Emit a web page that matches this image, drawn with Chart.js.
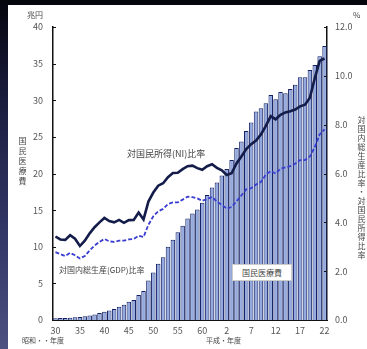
<!DOCTYPE html>
<html>
<head>
<meta charset="utf-8">
<script src="https://cdn.jsdelivr.net/npm/chart.js@4.4.0/dist/chart.umd.min.js"></script>
<style>
  html, body { margin: 0; padding: 0; }
  body { width: 367px; height: 349px; position: relative; overflow: hidden;
         background: linear-gradient(to bottom, #05050d 0%, #1c1e40 30%, #35396a 70%, #4b5080 100%);
         font-family: "Noto Sans CJK JP", "Noto Sans", sans-serif; }
  #paper { position: absolute; left: 8px; top: 5px; right: 0; bottom: 0; background: #fff; }
  #c { position: absolute; left: 0; top: 0; }
  .t { position: absolute; font-size: 9px; color: #444; white-space: nowrap; line-height: 1; }
  .v { writing-mode: vertical-rl; text-orientation: upright; letter-spacing: 1px; font-size: 8px; }
  #box { position: absolute; left: 232px; top: 264px; width: 60px; height: 17px; background: #fff;
         border: 1px solid #ccc; box-sizing: border-box; font-size: 8px; color: #444;
         display: flex; align-items: center; justify-content: center; }
</style>
</head>
<body>
<div id="paper"></div>
<canvas id="c" width="367" height="349"></canvas>
<div class="t" style="left:27px;top:11px;font-size:8px;">兆円</div>
<div class="t" style="left:353px;top:11px;font-size:8px;">%</div>
<div class="t v" style="left:18px;top:137px;letter-spacing:2px;">国民医療費</div>
<div class="t v" style="left:357px;top:116px;">対国内総生産比率・対国民所得比率</div>
<div class="t" style="left:22px;top:337px;font-size:7px;">昭和・・年度</div>
<div class="t" style="left:206px;top:337px;font-size:7px;">平成・年度</div>
<div class="t" style="left:127px;top:149px;">対国民所得(NI)比率</div>
<div class="t" style="left:59px;top:266px;font-size:8px;">対国内総生産(GDP)比率</div>
<div id="box">国民医療費</div>
<script>
// Fiscal-year labels: Showa 30-63, Heisei 1(元)-22  (FY1955-FY2010)
const yearLabels = ["30","31","32","33","34","35","36","37","38","39","40","41","42","43","44","45","46","47","48","49","50","51","52","53","54","55","56","57","58","59","60","61","62","63","元","2","3","4","5","6","7","8","9","10","11","12","13","14","15","16","17","18","19","20","21","22"];

// 国民医療費 (兆円)
const medicalExpense = [0.24,0.26,0.29,0.32,0.36,0.41,0.51,0.61,0.75,0.94,1.12,1.30,1.51,1.80,2.08,2.50,2.73,3.40,3.95,5.38,6.48,7.67,8.57,10.00,10.95,11.98,12.87,13.87,14.54,15.09,16.02,17.07,18.08,18.76,19.73,20.61,21.83,23.48,24.36,25.79,26.96,28.45,28.91,29.58,30.70,30.14,31.12,30.95,31.54,32.11,33.13,33.13,34.14,34.81,36.01,37.42];

// 対国民所得(NI)比率 (%)
const niRatio = [3.42,3.30,3.28,3.47,3.33,3.03,3.25,3.55,3.80,4.00,4.18,4.05,4.00,4.10,3.98,4.09,4.10,4.40,4.12,4.85,5.22,5.50,5.60,5.85,6.02,6.03,6.18,6.30,6.32,6.22,6.15,6.30,6.38,6.23,6.13,5.94,6.01,6.41,6.70,7.00,7.20,7.35,7.60,7.95,8.35,8.22,8.40,8.50,8.55,8.62,8.75,8.82,9.10,9.90,10.61,10.71];

// 対国内総生産(GDP)比率 (%)
const gdpRatio = [2.78,2.70,2.62,2.75,2.65,2.52,2.62,2.85,3.05,3.20,3.32,3.22,3.20,3.25,3.25,3.30,3.32,3.45,3.40,3.90,4.25,4.45,4.55,4.75,4.82,4.82,4.93,5.05,5.03,4.98,4.88,4.95,5.04,4.85,4.72,4.56,4.63,4.86,5.10,5.35,5.40,5.55,5.65,5.95,6.10,6.00,6.20,6.25,6.30,6.40,6.55,6.55,6.70,7.08,7.60,7.81];

// Left and right axis tick settings
const leftMax = 40, leftStep = 5;
const rightMax = 12, rightStep = 2;

const innerTicks = {
  id: 'innerTicks',
  afterDraw(chart) {
    const ctx = chart.ctx;
    const yl = chart.scales.y, yr = chart.scales.y1;
    ctx.save();
    ctx.strokeStyle = '#111';
    ctx.lineWidth = 1;
    ctx.beginPath();
    for (let v = 0; v <= leftMax; v += leftStep) {
      const p = Math.round(yl.getPixelForValue(v)) + 0.5;
      ctx.moveTo(yl.right, p); ctx.lineTo(yl.right + 3, p);
    }
    for (let v = 0; v <= rightMax; v += rightStep) {
      const p = Math.round(yr.getPixelForValue(v)) + 0.5;
      ctx.moveTo(yr.left - 3, p); ctx.lineTo(yr.left, p);
    }
    ctx.stroke();
    ctx.restore();
  }
};

const tickFont = { family: '"Noto Sans CJK JP", "Noto Sans", sans-serif', size: 9 };

new Chart(document.getElementById('c'), {
  data: {
    labels: yearLabels,
    datasets: [
      { type: 'line', label: '対国民所得(NI)比率', data: niRatio, yAxisID: 'y1', order: 0,
        borderColor: '#141c4a', borderWidth: 2.6, pointRadius: 0, tension: 0, fill: false },
      { type: 'line', label: '対国内総生産(GDP)比率', data: gdpRatio, yAxisID: 'y1', order: 0,
        borderColor: '#3a3ed0', borderWidth: 1.8, borderDash: [4, 2], pointRadius: 0, tension: 0, fill: false },
      { type: 'bar', label: '国民医療費', data: medicalExpense, yAxisID: 'y', order: 1,
        backgroundColor: '#94aade', borderColor: '#142063', borderWidth: 1,
        barPercentage: 0.92, categoryPercentage: 1.0 }
    ]
  },
  options: {
    responsive: false, animation: false, devicePixelRatio: 1,
    layout: { padding: { top: 27, left: 0, right: 0, bottom: 0 } },
    plugins: { legend: { display: false }, tooltip: { enabled: false } },
    scales: {
      x: {
        offset: true,
        grid: { display: false, drawTicks: false },
        border: { display: true, color: '#111', width: 1 },
        ticks: { autoSkip: false, maxRotation: 0, minRotation: 0, padding: 5, color: '#555', font: tickFont,
          callback: (v, i) => (i % 5 === 0 ? yearLabels[i] : '') },
        afterFit(s) { s.height = 29; }
      },
      y: {
        position: 'left', min: 0, max: leftMax,
        grid: { display: false, drawTicks: false },
        border: { display: true, color: '#111', width: 1.5 },
        ticks: { stepSize: leftStep, padding: 10, color: '#555', font: tickFont },
        afterFit(s) { s.width = 53; }
      },
      y1: {
        position: 'right', min: 0, max: rightMax,
        grid: { display: false, drawTicks: false },
        border: { display: true, color: '#111', width: 1.5 },
        ticks: { stepSize: rightStep, padding: 8, color: '#555', font: tickFont,
          callback: v => Number(v).toFixed(1) },
        afterFit(s) { s.width = 40; }
      }
    }
  },
  plugins: [innerTicks]
});
</script>
</body>
</html>
